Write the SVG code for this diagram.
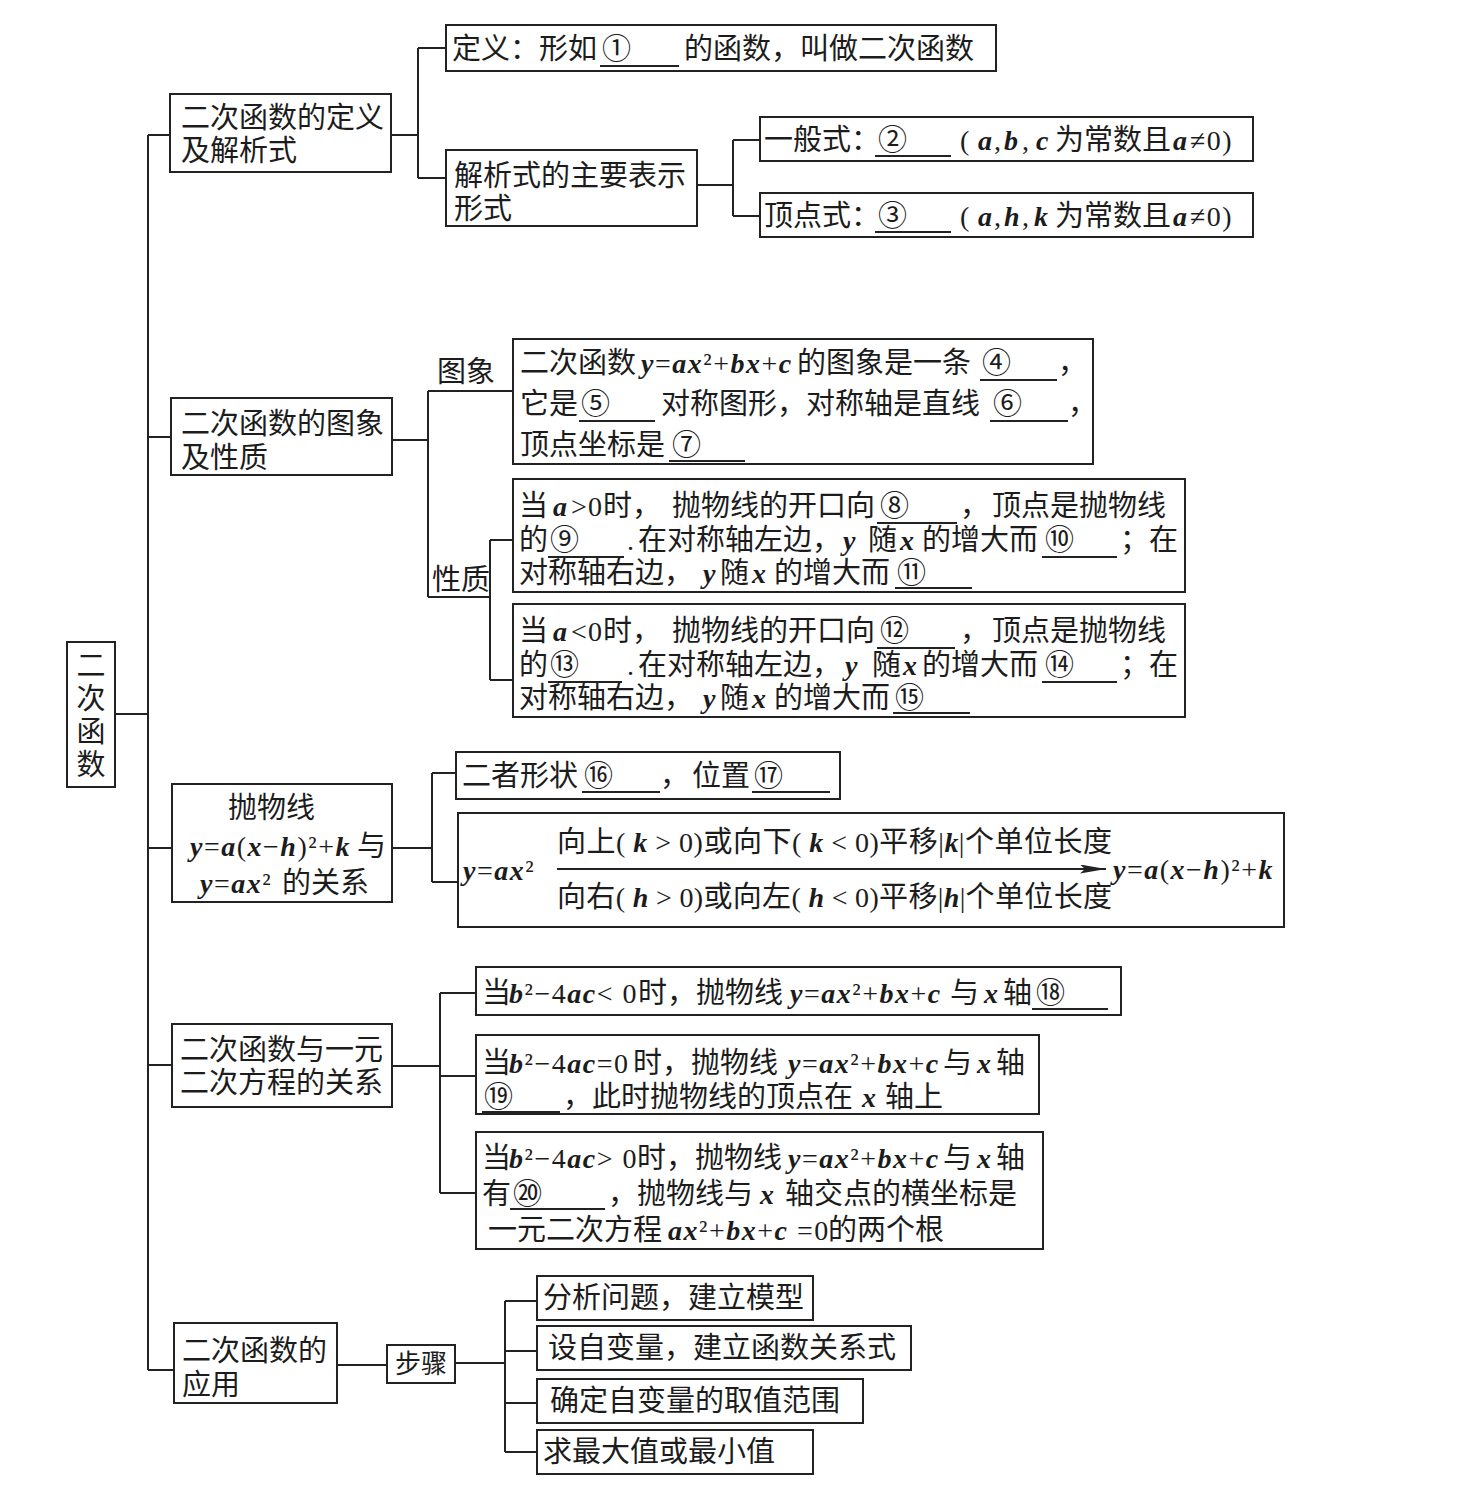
<svg xmlns="http://www.w3.org/2000/svg" width="1462" height="1506" viewBox="0 0 1462 1506">
<style>
.b{fill:#fff;stroke:#222;stroke-width:2}
.c line,.c path{stroke:#222;stroke-width:2;fill:none}
.ul{stroke:#222;stroke-width:1.8}
.t{font-family:"Noto Sans CJK SC","Noto Sans CJK JP",sans-serif;font-size:29px;fill:#1c1c1c}
.m{font-family:"Liberation Serif",serif;font-style:italic;font-weight:bold;font-size:28px;letter-spacing:1.5px}
.n{font-family:"Liberation Serif",serif;font-style:normal;font-weight:normal;font-size:28px;letter-spacing:1.5px}
.tight .m,.tight .n{letter-spacing:0}
</style>
<defs>
<marker id="ah" markerWidth="26" markerHeight="9" refX="26" refY="4.5" orient="auto" markerUnits="userSpaceOnUse"><path d="M0,0 L26,4.5 L0,9 L5,4.5 z" fill="#222"/></marker>
</defs>
<rect width="1462" height="1506" fill="#fff"/>

<g class="c" id="connectors">
<line x1="115" y1="714" x2="148" y2="714"/>
<line x1="148" y1="135" x2="148" y2="1370"/>
<line x1="148" y1="135" x2="170" y2="135"/>
<line x1="148" y1="437" x2="171" y2="437"/>
<line x1="148" y1="848" x2="172" y2="848"/>
<line x1="148" y1="1065" x2="172" y2="1065"/>
<line x1="148" y1="1370" x2="174" y2="1370"/>
<path d="M391,135 H418 M418,48 V178 M418,48 H446 M418,178 H446"/>
<path d="M697,185 H733 M733,140 V216 M733,140 H760 M733,216 H760"/>
<path d="M392,440 H428 M428,391 V597 M428,391 H513 M428,597 H490 M490,540 V680 M490,540 H513 M490,680 H513"/>
<path d="M392,848 H432 M432,773 V882 M432,773 H456 M432,882 H458"/>
<path d="M392,1066 H440 M440,993 V1193 M440,993 H476 M440,1076 H476 M440,1193 H476"/>
<path d="M337,1365 H387 M455,1363 H505 M505,1301 V1452 M505,1301 H537 M505,1351 H537 M505,1403 H537 M505,1452 H537"/>
</g>

<g id="root">
<rect class="b" x="67" y="642" width="48" height="145"/>
<text class="t" text-anchor="middle"><tspan x="91" y="676">二</tspan><tspan x="91" y="709">次</tspan><tspan x="91" y="742">函</tspan><tspan x="91" y="775">数</tspan></text>
</g>

<g id="n1">
<rect class="b" x="170" y="94" width="221" height="78"/>
<text class="t"><tspan x="181" y="128">二次函数的定义</tspan><tspan x="181" y="161">及解析式</tspan></text>
</g>
<g id="n1-def">
<rect class="b" x="446" y="25" width="550" height="46"/>
<text class="t" y="59"><tspan x="452">定义：形如</tspan><tspan x="602">①</tspan><tspan x="684">的函数，叫做二次函数</tspan></text>
<line class="ul" x1="600" y1="66" x2="679" y2="66"/>
</g>
<g id="n1-forms">
<rect class="b" x="446" y="150" width="251" height="76"/>
<text class="t"><tspan x="454" y="186">解析式的主要表示</tspan><tspan x="454" y="219">形式</tspan></text>
</g>
<g id="n1-general">
<rect class="b" x="760" y="117" width="493" height="44"/>
<text class="t" y="150"><tspan x="764">一般式：</tspan><tspan x="878">②</tspan><tspan x="960" class="n">(</tspan><tspan x="978" class="m">a</tspan><tspan x="994" class="n">,</tspan><tspan x="1004" class="m">b</tspan><tspan x="1022" class="n">,</tspan><tspan x="1036" class="m">c</tspan><tspan x="1055">为常数且</tspan><tspan x="1173" class="m">a</tspan><tspan x="1190" class="n">≠0)</tspan></text>
<line class="ul" x1="875" y1="156" x2="951" y2="156"/>
</g>
<g id="n1-vertex">
<rect class="b" x="760" y="193" width="493" height="44"/>
<text class="t" y="226"><tspan x="764">顶点式：</tspan><tspan x="878">③</tspan><tspan x="960" class="n">(</tspan><tspan x="978" class="m">a</tspan><tspan x="994" class="n">,</tspan><tspan x="1004" class="m">h</tspan><tspan x="1022" class="n">,</tspan><tspan x="1034" class="m">k</tspan><tspan x="1055">为常数且</tspan><tspan x="1173" class="m">a</tspan><tspan x="1190" class="n">≠0)</tspan></text>
<line class="ul" x1="875" y1="232" x2="951" y2="232"/>
</g>

<g id="n2">
<rect class="b" x="171" y="398" width="221" height="77"/>
<text class="t"><tspan x="181" y="434">二次函数的图象</tspan><tspan x="181" y="468">及性质</tspan></text>
</g>
<g id="n2-label-image"><text class="t" x="437" y="382">图象</text></g>
<g id="n2-label-prop"><text class="t" x="432" y="590">性质</text></g>
<g id="n2-image">
<rect class="b" x="513" y="339" width="580" height="125"/>
<text class="t" y="373"><tspan x="520">二次函数</tspan><tspan x="641" class="m">y</tspan><tspan class="n">=</tspan><tspan class="m">ax</tspan><tspan class="n">²+</tspan><tspan class="m">bx</tspan><tspan class="n">+</tspan><tspan class="m">c</tspan><tspan x="797">的图象是一条</tspan><tspan x="982">④</tspan><tspan x="1058">，</tspan></text>
<text class="t" y="414"><tspan x="520">它是</tspan><tspan x="581">⑤</tspan><tspan x="661">对称图形，对称轴是直线</tspan><tspan x="993">⑥</tspan><tspan x="1068">，</tspan></text>
<text class="t" y="455"><tspan x="520">顶点坐标是</tspan><tspan x="672">⑦</tspan></text>
<line class="ul" x1="980" y1="380" x2="1057" y2="380"/>
<line class="ul" x1="579" y1="421" x2="655" y2="421"/>
<line class="ul" x1="990" y1="421" x2="1068" y2="421"/>
<line class="ul" x1="669" y1="461" x2="745" y2="461"/>
</g>
<g id="n2-apos">
<rect class="b" x="513" y="479" width="672" height="113"/>
<text class="t" y="516"><tspan x="519">当</tspan><tspan x="553" class="m">a</tspan><tspan x="571" class="n">&gt;</tspan><tspan x="588" class="n">0</tspan><tspan x="603">时，</tspan><tspan x="672">抛物线的开口向</tspan><tspan x="880">⑧</tspan><tspan x="960">，</tspan><tspan x="992">顶点是抛物线</tspan></text>
<text class="t" y="550"><tspan x="519">的</tspan><tspan x="550">⑨</tspan><tspan x="627" class="n">.</tspan><tspan x="638">在对称轴左边，</tspan><tspan x="843" class="m">y</tspan><tspan x="868">随</tspan><tspan x="900" class="m">x</tspan><tspan x="922">的增大而</tspan><tspan x="1045">⑩</tspan><tspan x="1120">；在</tspan></text>
<text class="t" y="583"><tspan x="519">对称轴右边，</tspan><tspan x="703" class="m">y</tspan><tspan x="720">随</tspan><tspan x="752" class="m">x</tspan><tspan x="774">的增大而</tspan><tspan x="897">⑪</tspan></text>
<line class="ul" x1="877" y1="523" x2="957" y2="523"/>
<line class="ul" x1="548" y1="557" x2="624" y2="557"/>
<line class="ul" x1="1042" y1="557" x2="1117" y2="557"/>
<line class="ul" x1="895" y1="588" x2="972" y2="588"/>
</g>
<g id="n2-aneg">
<rect class="b" x="513" y="604" width="672" height="113"/>
<text class="t" y="641"><tspan x="519">当</tspan><tspan x="553" class="m">a</tspan><tspan x="571" class="n">&lt;</tspan><tspan x="588" class="n">0</tspan><tspan x="603">时，</tspan><tspan x="672">抛物线的开口向</tspan><tspan x="880">⑫</tspan><tspan x="960">，</tspan><tspan x="992">顶点是抛物线</tspan></text>
<text class="t" y="675"><tspan x="519">的</tspan><tspan x="550">⑬</tspan><tspan x="627" class="n">.</tspan><tspan x="638">在对称轴左边，</tspan><tspan x="845" class="m">y</tspan><tspan x="872">随</tspan><tspan x="903" class="m">x</tspan><tspan x="922">的增大而</tspan><tspan x="1045">⑭</tspan><tspan x="1120">；在</tspan></text>
<text class="t" y="708"><tspan x="519">对称轴右边，</tspan><tspan x="703" class="m">y</tspan><tspan x="720">随</tspan><tspan x="752" class="m">x</tspan><tspan x="774">的增大而</tspan><tspan x="895">⑮</tspan></text>
<line class="ul" x1="877" y1="648" x2="955" y2="648"/>
<line class="ul" x1="548" y1="682" x2="622" y2="682"/>
<line class="ul" x1="1042" y1="682" x2="1117" y2="682"/>
<line class="ul" x1="893" y1="713" x2="970" y2="713"/>
</g>

<g id="n3">
<rect class="b" x="172" y="784" width="220" height="118"/>
<text class="t" x="228" y="818">抛物线</text>
<text class="t" y="856"><tspan x="190" class="m">y</tspan><tspan class="n">=</tspan><tspan class="m">a</tspan><tspan class="n">(</tspan><tspan class="m">x</tspan><tspan class="n">−</tspan><tspan class="m">h</tspan><tspan class="n">)²+</tspan><tspan class="m">k</tspan><tspan x="357">与</tspan></text>
<text class="t" y="893"><tspan x="200" class="m">y</tspan><tspan class="n">=</tspan><tspan class="m">ax</tspan><tspan class="n">²</tspan><tspan x="282">的关系</tspan></text>
</g>
<g id="n3-shape">
<rect class="b" x="456" y="752" width="384" height="47"/>
<text class="t" y="786"><tspan x="462">二者形状</tspan><tspan x="584">⑯</tspan><tspan x="660">，</tspan><tspan x="692">位置</tspan><tspan x="754">⑰</tspan></text>
<line class="ul" x1="582" y1="792" x2="660" y2="792"/>
<line class="ul" x1="752" y1="792" x2="830" y2="792"/>
</g>
<g id="n3-shift">
<rect class="b" x="458" y="813" width="826" height="114"/>
<text class="t" y="880"><tspan x="463" class="m">y</tspan><tspan class="n">=</tspan><tspan class="m">ax</tspan><tspan class="n">²</tspan></text>
<line x1="557" y1="869" x2="1106" y2="869" stroke="#222" stroke-width="2" marker-end="url(#ah)"/>
<text class="t tight" x="557" y="852" textLength="555" lengthAdjust="spacing">向上<tspan class="n">( </tspan><tspan class="m">k</tspan><tspan class="n"> &gt; 0)</tspan>或向下<tspan class="n">( </tspan><tspan class="m">k</tspan><tspan class="n"> &lt; 0)</tspan>平移<tspan class="n">|</tspan><tspan class="m">k</tspan><tspan class="n">|</tspan>个单位长度</text>
<text class="t tight" x="557" y="907" textLength="555" lengthAdjust="spacing">向右<tspan class="n">( </tspan><tspan class="m">h</tspan><tspan class="n"> &gt; 0)</tspan>或向左<tspan class="n">( </tspan><tspan class="m">h</tspan><tspan class="n"> &lt; 0)</tspan>平移<tspan class="n">|</tspan><tspan class="m">h</tspan><tspan class="n">|</tspan>个单位长度</text>
<text class="t" y="879"><tspan x="1113" class="m">y</tspan><tspan class="n">=</tspan><tspan class="m">a</tspan><tspan class="n">(</tspan><tspan class="m">x</tspan><tspan class="n">−</tspan><tspan class="m">h</tspan><tspan class="n">)²+</tspan><tspan class="m">k</tspan></text>
</g>

<g id="n4">
<rect class="b" x="172" y="1024" width="220" height="83"/>
<text class="t"><tspan x="180" y="1060">二次函数与一元</tspan><tspan x="180" y="1093">二次方程的关系</tspan></text>
</g>
<g id="n4-neg">
<rect class="b" x="476" y="967" width="645" height="48"/>
<text class="t" y="1003"><tspan x="482">当</tspan><tspan x="509" class="m">b</tspan><tspan class="n">²−4</tspan><tspan class="m">ac</tspan><tspan class="n">&lt; 0</tspan><tspan x="638">时，抛物线</tspan><tspan x="790" class="m">y</tspan><tspan class="n">=</tspan><tspan class="m">ax</tspan><tspan class="n">²+</tspan><tspan class="m">bx</tspan><tspan class="n">+</tspan><tspan class="m">c</tspan><tspan x="950">与</tspan><tspan x="984" class="m">x</tspan><tspan x="1003">轴</tspan><tspan x="1036">⑱</tspan></text>
<line class="ul" x1="1032" y1="1009" x2="1108" y2="1009"/>
</g>
<g id="n4-zero">
<rect class="b" x="476" y="1035" width="563" height="79"/>
<text class="t" y="1073"><tspan x="482">当</tspan><tspan x="509" class="m">b</tspan><tspan class="n">²−4</tspan><tspan class="m">ac</tspan><tspan class="n">=0</tspan><tspan x="633">时，抛物线</tspan><tspan x="788" class="m">y</tspan><tspan class="n">=</tspan><tspan class="m">ax</tspan><tspan class="n">²+</tspan><tspan class="m">bx</tspan><tspan class="n">+</tspan><tspan class="m">c</tspan><tspan x="943">与</tspan><tspan x="977" class="m">x</tspan><tspan x="996">轴</tspan></text>
<text class="t" y="1107"><tspan x="484">⑲</tspan><tspan x="563">，此时抛物线的顶点在</tspan><tspan x="862" class="m">x</tspan><tspan x="885">轴上</tspan></text>
<line class="ul" x1="482" y1="1112" x2="560" y2="1112"/>
</g>
<g id="n4-pos">
<rect class="b" x="476" y="1132" width="567" height="117"/>
<text class="t" y="1168"><tspan x="482">当</tspan><tspan x="509" class="m">b</tspan><tspan class="n">²−4</tspan><tspan class="m">ac</tspan><tspan class="n">&gt; 0</tspan><tspan x="637">时，抛物线</tspan><tspan x="788" class="m">y</tspan><tspan class="n">=</tspan><tspan class="m">ax</tspan><tspan class="n">²+</tspan><tspan class="m">bx</tspan><tspan class="n">+</tspan><tspan class="m">c</tspan><tspan x="943">与</tspan><tspan x="977" class="m">x</tspan><tspan x="996">轴</tspan></text>
<text class="t" y="1204"><tspan x="482">有</tspan><tspan x="513">⑳</tspan><tspan x="608">，抛物线与</tspan><tspan x="760" class="m">x</tspan><tspan x="785">轴交点的横坐标是</tspan></text>
<text class="t" y="1240"><tspan x="488">一元二次方程</tspan><tspan x="668" class="m">ax</tspan><tspan class="n">²+</tspan><tspan class="m">bx</tspan><tspan class="n">+</tspan><tspan class="m">c</tspan><tspan class="n"> =0</tspan><tspan x="828">的两个根</tspan></text>
<line class="ul" x1="510" y1="1209" x2="605" y2="1209"/>
</g>

<g id="n5">
<rect class="b" x="174" y="1323" width="163" height="80"/>
<text class="t"><tspan x="182" y="1361">二次函数的</tspan><tspan x="182" y="1395">应用</tspan></text>
</g>
<g id="n5-steps">
<rect class="b" x="387" y="1345" width="68" height="38"/>
<text class="t" x="421" y="1373" text-anchor="middle" style="font-size:26px">步骤</text>
</g>
<g id="s1"><rect class="b" x="537" y="1276" width="276" height="44"/><text class="t" x="543" y="1308">分析问题，建立模型</text></g>
<g id="s2"><rect class="b" x="537" y="1326" width="374" height="44"/><text class="t" x="548" y="1358">设自变量，建立函数关系式</text></g>
<g id="s3"><rect class="b" x="537" y="1379" width="326" height="44"/><text class="t" x="550" y="1411">确定自变量的取值范围</text></g>
<g id="s4"><rect class="b" x="537" y="1430" width="276" height="44"/><text class="t" x="543" y="1462">求最大值或最小值</text></g>
</svg>
